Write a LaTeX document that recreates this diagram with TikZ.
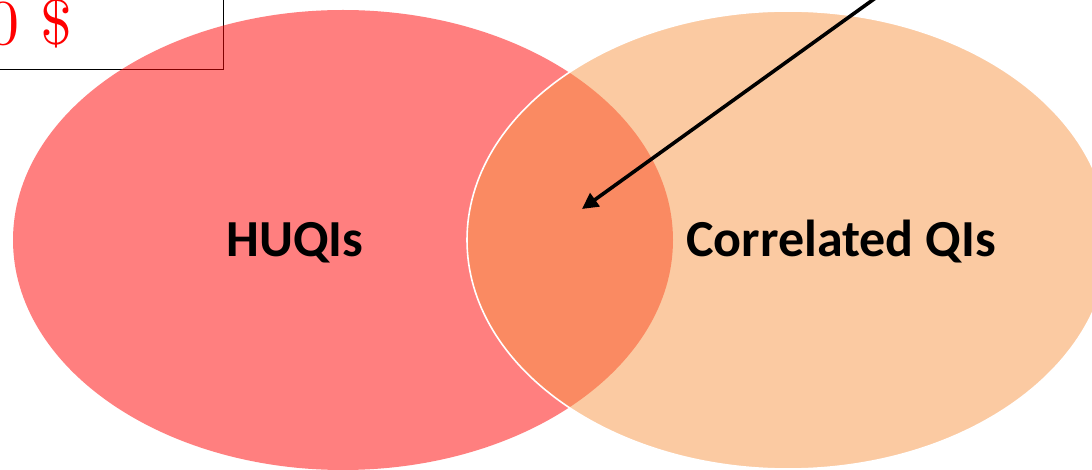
\documentclass[tikz,border=0pt]{standalone}
\usepackage{fontspec}
\newfontfamily\labelfont{Carlito}
\newfontfamily\pricefont{lmroman10-regular}[Extension=.otf]
\usetikzlibrary{arrows.meta,shapes.geometric}
\definecolor{setred}{RGB}{255,0,0}
\definecolor{setorange}{RGB}{247,150,70}
\tikzset{
  setlabel/.style={font=\labelfont\bfseries\fontsize{52}{60}\selectfont,
    anchor=base, text=black, inner sep=0pt},
  setshape/.style={ellipse, inner sep=0pt, outer sep=0pt, fill opacity=0.5},
  pointer/.style={-{Triangle[length=16pt,width=16pt]}, line width=3.6pt, black},
}
\begin{document}
\begin{tikzpicture}[x=1pt,y=-1pt]
\useasboundingbox (0,0) rectangle (1092,470);
\clip (0,0) rectangle (1092,470);

% price tag in the upper left corner
\node (tag) [draw=black, line width=1pt, minimum width=320pt, minimum height=120pt,
  anchor=south east, inner sep=0pt] at (224,70) {};
\node (price) [anchor=base east, inner sep=0pt, text=red,
  font=\pricefont\fontsize{64}{74}\selectfont] at (73,45) {0 \$};

% the two overlapping sets
\node (huqis) [setshape, fill=setred, minimum width=660pt, minimum height=460pt]
  at (343,240) {};
\node (corr) [setshape, fill=setorange, draw=white, line width=1.6pt,
  minimum width=642pt, minimum height=458pt] at (788,240) {};

\node (huqislabel) [setlabel] at (295,257) {HUQIs};
\node (corrlabel) [setlabel] at (841,257) {Correlated QIs};

% pointer into the intersection
\coordinate (from) at (888,-11);
\coordinate (overlap) at (582,209);
\draw[pointer] (from) -- (overlap);
\end{tikzpicture}
\end{document}
